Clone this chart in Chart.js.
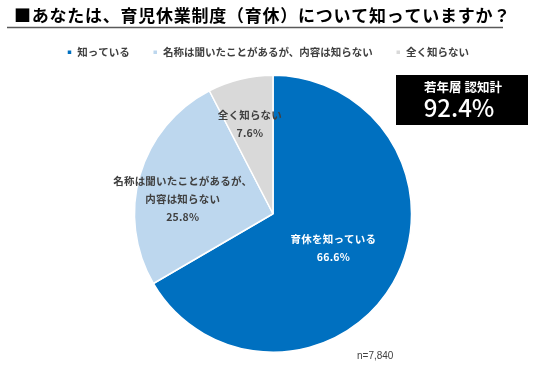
<!DOCTYPE html>
<html lang="ja">
<head>
<meta charset="utf-8">
<title>育休の認知度</title>
<script src="https://cdn.jsdelivr.net/npm/chart.js@4/dist/chart.umd.min.js"></script>
<style>
  html, body { margin: 0; padding: 0; background: #fff; }
  #wrap { position: relative; width: 536px; height: 365px; }
</style>
</head>
<body>
<div id="wrap"><canvas id="ikukyuChart" width="536" height="365"></canvas></div>
<script>
// データ
const categories = ['知っている', '名称は聞いたことがあるが、内容は知らない', '全く知らない'];
const sliceLabels = [['育休を知っている'], ['名称は聞いたことがあるが、', '内容は知らない'], ['全く知らない']];
const shares = [66.6, 25.8, 7.6];
const sliceColors = ['#0070C0', '#BDD7EE', '#D9D9D9'];
const labelColors = ['#FFFFFF', '#404040', '#404040'];
// ラベル位置（角度のずれ[度]、半径比）
const labelAngleShift = [0, -6.7, -0.8];
const labelRadius = [0.503, 0.661, 0.667];

const chartTitle = '■あなたは、育児休業制度（育休）について知っていますか？';
const boxTitle = '若年層 認知計';
const boxValue = '92.4%';
const sampleNote = 'n=7,840';

const JP = '"Noto Sans CJK JP", "Noto Sans", sans-serif';

// 凡例の高さ・位置の調整
const legendTweak = {
    id: 'legendTweak',
    beforeInit(chart) {
        const lg = chart.legend;
        const fit = lg.fit;
        lg.fit = function () {
            fit.call(this);
            this.height += 7;
        };
    },
    afterLayout(chart) {
        chart.legend.left -= 5;
        chart.legend.right -= 5;
    }
};

// タイトル・下線・注記・認知計ボックス
const decorPlugin = {
    id: 'decor',
    afterDraw(chart) {
        const ctx = chart.ctx;
        ctx.save();
        ctx.fillStyle = '#000';
        ctx.font = 'bold 17px ' + JP;
        ctx.textBaseline = 'middle';
        ctx.textAlign = 'left';
        ctx.letterSpacing = '0.75px';
        ctx.fillText(chartTitle, 14, 16);
        ctx.letterSpacing = '0px';

        ctx.strokeStyle = '#595959';
        ctx.lineWidth = 1.5;
        ctx.beginPath();
        ctx.moveTo(7, 27.5);
        ctx.lineTo(503, 27.5);
        ctx.stroke();

        // 認知計ボックス
        ctx.fillStyle = '#000';
        ctx.fillRect(396, 75, 132, 50);
        ctx.fillStyle = '#fff';
        ctx.textAlign = 'center';
        ctx.font = 'bold 12.5px ' + JP;
        ctx.fillText(boxTitle, 463, 87);
        ctx.font = '500 24px ' + JP;
        ctx.fillText(boxValue, 459, 108);

        // n数
        ctx.fillStyle = '#404040';
        ctx.font = '10px "Liberation Sans", Arial, sans-serif';
        ctx.textAlign = 'left';
        ctx.fillText(sampleNote, 357, 356);
        ctx.restore();
    }
};

// 扇形のラベル
const sliceLabelPlugin = {
    id: 'sliceLabels',
    afterDatasetsDraw(chart) {
        const ctx = chart.ctx;
        const arcs = chart.getDatasetMeta(0).data;
        ctx.save();
        ctx.font = 'bold 10.5px ' + JP;
        ctx.textAlign = 'center';
        ctx.textBaseline = 'middle';
        ctx.letterSpacing = '0.2px';
        arcs.forEach((arc, i) => {
            const p = arc.getProps(['x', 'y', 'startAngle', 'endAngle', 'outerRadius'], true);
            const mid = (p.startAngle + p.endAngle) / 2 + labelAngleShift[i] * Math.PI / 180;
            const r = p.outerRadius * labelRadius[i];
            const cx = p.x + Math.cos(mid) * r;
            const cy = p.y + Math.sin(mid) * r;
            const lines = sliceLabels[i].concat([shares[i].toFixed(1) + '%']);
            const lh = 18;
            const top = cy - (lines.length - 1) * lh / 2;
            ctx.fillStyle = labelColors[i];
            lines.forEach((t, k) => ctx.fillText(t, cx, top + k * lh));
        });
        ctx.restore();
    }
};

const ctx = document.getElementById('ikukyuChart');
const chart = new Chart(ctx, {
    type: 'pie',
    data: {
        labels: categories,
        datasets: [{
            data: shares,
            backgroundColor: sliceColors,
            borderColor: '#FFFFFF',
            borderWidth: 1.5
        }]
    },
    options: {
        responsive: false,
        animation: false,
        layout: {
            padding: { top: 24, bottom: 12, left: 10, right: 0 }
        },
        plugins: {
            title: { display: false },
            tooltip: { enabled: false },
            legend: {
                display: true,
                position: 'top',
                labels: {
                    boxWidth: 5,
                    boxHeight: 5,
                    padding: 23,
                    color: '#404040',
                    font: { family: JP, size: 10.5, weight: 'bold' }
                }
            }
        }
    },
    plugins: [legendTweak, sliceLabelPlugin, decorPlugin]
});
</script>
</body>
</html>
